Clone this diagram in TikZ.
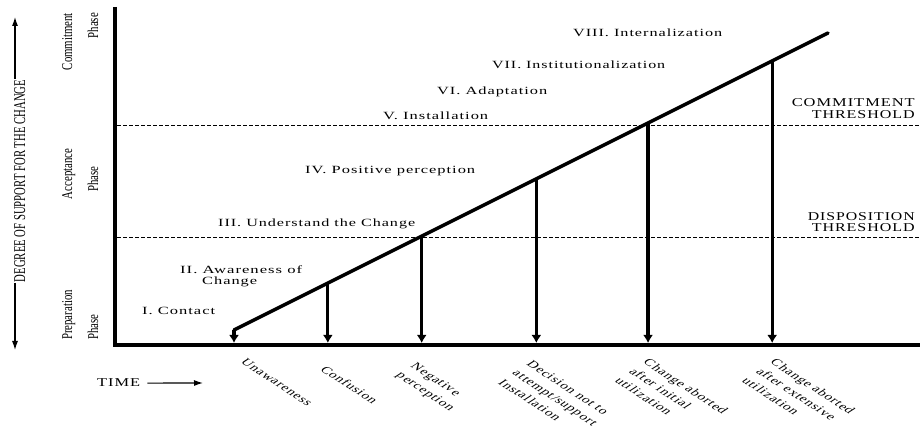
\documentclass[tikz,border=0pt]{standalone}
\usepackage{fontspec}
\usepackage{graphicx}
\setmainfont{Liberation Serif}
\newfontfamily\lblfont[LetterSpace=6]{Liberation Serif}
\usetikzlibrary{arrows.meta,calc}
\newcommand\fw[2]{\resizebox{#1pt}{\height}{#2}}
\tikzset{
  stagelbl/.style={font=\lblfont\fontsize{11}{13}\selectfont, inner sep=0pt, anchor=base west},
  threshlbl/.style={font=\lblfont\fontsize{12}{14}\selectfont, inner sep=0pt, anchor=base east},
  phaselbl/.style={font=\fontsize{15}{18}\selectfont, inner sep=0pt, rotate=90, xscale=0.72},
  outcome/.style={font=\lblfont\fontsize{11.5}{15.5}\selectfont, inner sep=0pt, anchor=north west, align=left, rotate=-33, xslant=0.45, xscale=1.17},
  axisline/.style={line width=4.5pt, line join=miter, line cap=butt},
  diagline/.style={line width=3.5pt, line cap=round},
  downarrow/.style={line width=3.2pt, -{Latex[length=8pt,width=10pt]}},
  threshline/.style={line width=0.9pt, dash pattern=on 4pt off 2pt},
  thinarrow/.style={line width=1.1pt, -{Latex[length=9pt,width=6pt]}},
}
\begin{document}
\begin{tikzpicture}[x=1pt,y=-1pt]
\useasboundingbox[fill=white] (0,0) rectangle (924,427);
% axes
\coordinate (otop) at (115,7);
\coordinate (orig) at (115,345);
\coordinate (xend) at (920,345);
\draw[axisline] (otop) -- (orig) -- (xend);
% thresholds
\coordinate (c0) at (117,125); \coordinate (c1) at (920,125);
\coordinate (d0) at (117,237); \coordinate (d1) at (920,237);
\draw[threshline] (c0) -- (c1);
\draw[threshline] (d0) -- (d1);
% diagonal and arrows
\coordinate (s) at (234,330);
\coordinate (e) at (828,33);
\coordinate (ax) at (0,343);
\draw[diagline] (e) -- (s);
\draw[downarrow] (s) -- (s |- ax);
\foreach \n/\t in {2/0.158,3/0.316,4/0.509,5/0.697,6/0.906}{
  \coordinate (p\n) at ($(s)!\t!(e)$);
  \draw[downarrow] (p\n) -- (p\n |- ax);
}
% stage labels
\node[stagelbl] (st8) at (573,37) {\fw{149}{VIII. Internalization}};
\node[stagelbl] (st7) at (492,69) {\fw{173}{VII. Institutionalization}};
\node[stagelbl] (st6) at (437,95) {\fw{110}{VI. Adaptation}};
\node[stagelbl] (st5) at (383,120) {\fw{105}{V. Installation}};
\node[stagelbl] (st4) at (305,174) {\fw{170}{IV. Positive perception}};
\node[stagelbl] (st3) at (218,227) {\fw{197}{III. Understand the Change}};
\node[stagelbl] (st2a) at (180,274) {\fw{122}{II. Awareness of}};
\node[stagelbl] (st2b) at (202,285) {\fw{55}{Change}};
\node[stagelbl] (st1) at (142,315) {\fw{73}{I. Contact}};
% threshold labels
\node[threshlbl] (ct1) at (915,107) {\fw{123}{COMMITMENT}};
\node[threshlbl] (ct2) at (915,119) {\fw{103}{THRESHOLD}};
\node[threshlbl] (dt1) at (915,221) {\fw{107}{DISPOSITION}};
\node[threshlbl] (dt2) at (915,232) {\fw{103}{THRESHOLD}};
% phase labels
\node[phaselbl, anchor=base east] (cp1) at (72,13) {Commitment};
\node[phaselbl, anchor=base east] (cp2) at (98,13) {Phase};
\node[phaselbl, anchor=base] (ap1) at (72,174) {Acceptance};
\node[phaselbl, anchor=base] (ap2) at (98,179) {Phase};
\node[phaselbl, anchor=base west] (pp1) at (72,340) {Preparation};
\node[phaselbl, anchor=base west] (pp2) at (98,340) {Phase};
% vertical axis title
\node[font=\fontsize{16.5}{18}\selectfont, inner sep=1pt, rotate=90, xscale=0.65, anchor=base] (deg) at (25,181) {DEGREE OF SUPPORT FOR THE CHANGE};
\coordinate (dtop) at (15,17);
\coordinate (dbot) at (15,350);
\draw[thinarrow] (deg.east -| dtop) -- (dtop);
\draw[thinarrow] (deg.west -| dbot) -- (dbot);
% time
\node[threshlbl, anchor=base west] (time) at (97,387) {\fw{43}{TIME}};
\coordinate (tend) at (203,383);
\draw[thinarrow] ([xshift=7pt]time.east) -- (tend);
% outcomes
\node[outcome] (o1) at (247,358) {Unawareness};
\node[outcome] (o2) at (327,365) {Confusion};
\node[outcome] (o3) at (417,362) {Negative\\perception};
\node[outcome] (o4) at (533,360) {Decision not to\\attempt/support\\Installation};
\node[outcome] (o5) at (650,358) {Change aborted\\after initial\\utilization};
\node[outcome] (o6) at (777,358) {Change aborted\\after extensive\\utilization};
\end{tikzpicture}
\end{document}
